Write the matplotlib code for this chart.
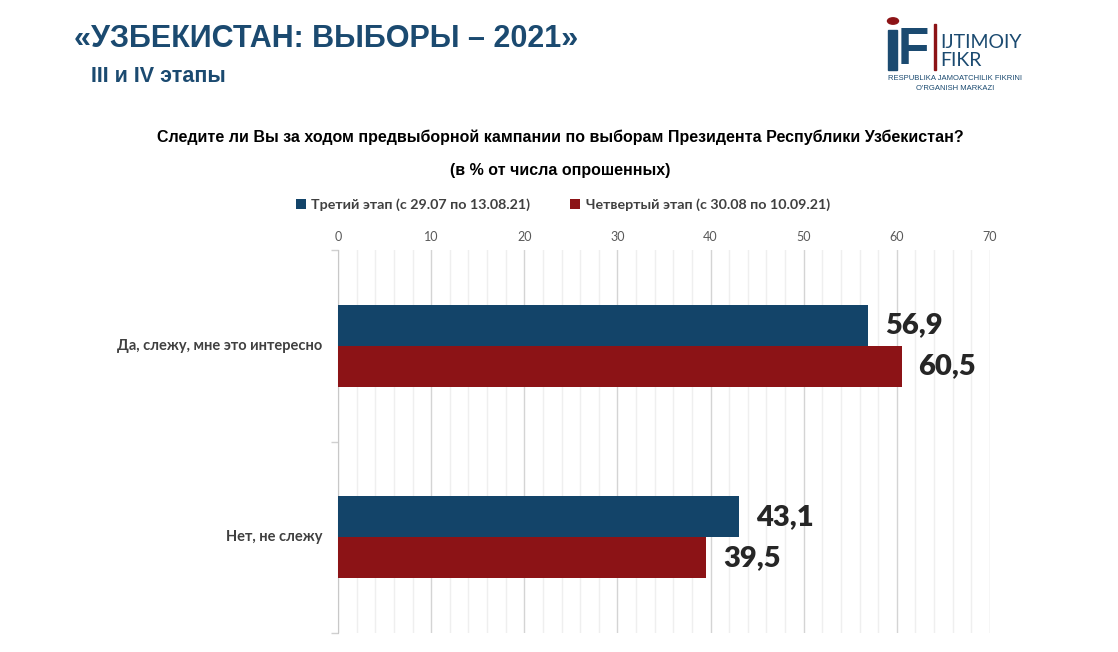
import matplotlib
import matplotlib.pyplot as plt
from matplotlib.patches import Rectangle, Circle

matplotlib.use("Agg")

# data
categories = ["Да, слежу, мне это интересно", "Нет, не слежу"]
stage3 = [56.9, 43.1]
stage4 = [60.5, 39.5]
series_names = ["Третий этап (с 29.07 по 13.08.21)", "Четвертый этап (с 30.08 по 10.09.21)"]
x_ticks = [0, 10, 20, 30, 40, 50, 60, 70]

BLUE = "#134469"
RED = "#8c1316"
TITLE_BLUE = "#1b4a70"
GRAY = "#404040"

W, H = 1118, 652
fig = plt.figure(figsize=(W / 100, H / 100), dpi=100)
fig.patch.set_facecolor("white")

def fx(px):
    return px / W

def fy(py):
    return 1 - py / H

narrow = ["Liberation Sans", "DejaVu Sans"]
body = ["Lato", "DejaVu Sans"]

# headers
fig.text(fx(74), fy(39), "«УЗБЕКИСТАН: ВЫБОРЫ – 2021»", family=narrow, weight="bold",
         fontsize=22, color=TITLE_BLUE, va="center", ha="left")
fig.text(fx(91), fy(77), "III и IV этапы", family=narrow, weight="bold",
         fontsize=15.5, color=TITLE_BLUE, va="center", ha="left")
fig.text(fx(560), fy(137), "Следите ли Вы за ходом предвыборной кампании по выборам Президента Республики Узбекистан?",
         family=narrow, weight="bold", fontsize=11.5, color="black", va="center", ha="center")
fig.text(fx(560), fy(171), "(в % от числа опрошенных)", family=narrow, weight="bold",
         fontsize=11.5, color="black", va="center", ha="center")

# logo
fig.patches.append(Rectangle((fx(888), fy(70)), fx(9), 40 / H, transform=fig.transFigure,
                             color=TITLE_BLUE, zorder=5))
fig.patches.append(Circle((fx(893), fy(21)), 5.5 / W, transform=fig.transFigure,
                          color=RED, zorder=5))
fig.text(fx(898), fy(50), "F", family=["Liberation Sans", "DejaVu Sans"], weight="bold",
         fontsize=37, color=TITLE_BLUE, va="center", ha="left")
fig.patches.append(Rectangle((fx(934), fy(70)), fx(1.5), 46 / H, transform=fig.transFigure,
                             color=RED, zorder=5))
fig.text(fx(940), fy(43), "IJTIMOIY", family=body, fontsize=14, color=TITLE_BLUE,
         va="center", ha="left")
fig.text(fx(940), fy(61), "FIKR", family=body, fontsize=14, color=TITLE_BLUE,
         va="center", ha="left")
fig.text(fx(955), fy(78), "RESPUBLIKA JAMOATCHILIK FIKRINI", family=narrow, fontsize=5.5,
         color=TITLE_BLUE, va="center", ha="center")
fig.text(fx(955), fy(88), "O'RGANISH MARKAZI", family=narrow, fontsize=5.5,
         color=TITLE_BLUE, va="center", ha="center")

# chart
ax = fig.add_axes([fx(338), fy(633), fx(990 - 338), (633 - 250) / H])
ypos = [1, 0]
bh = 0.214
b1 = ax.barh([y + bh / 2 for y in ypos], stage3, height=bh, color=BLUE, label=series_names[0], zorder=3)
b2 = ax.barh([y - bh / 2 for y in ypos], stage4, height=bh, color=RED, label=series_names[1], zorder=3)

for bars in (b1, b2):
    for rect in bars:
        v = rect.get_width()
        ax.annotate(f"{v:.1f}".replace(".", ","), (v, rect.get_y() + rect.get_height() / 2),
                    xytext=(17, 0), textcoords="offset pixels", va="center", ha="left",
                    family=body, weight="heavy", fontsize=21, color="#262626")

ax.set_xlim(0, 70)
ax.set_ylim(-0.5, 1.5)
ax.xaxis.tick_top()
ax.set_xticks(x_ticks)
ax.set_xticks(range(0, 71, 2), minor=True)
ax.tick_params(axis="x", which="both", length=0, pad=5, labelsize=9, labelcolor="#595959")
for lab in ax.get_xticklabels():
    lab.set_family(body)
ax.grid(axis="x", which="major", color="#d4d4d4", linewidth=1, zorder=0)
ax.grid(axis="x", which="minor", color="#efefef", linewidth=1, zorder=0)

ax.set_yticks([-0.5, 0.5, 1.5])
ax.set_yticklabels([])
ax.tick_params(axis="y", length=5, color="#d0d0d0", width=1)
for y, cat in zip(ypos, categories):
    ax.text(-1.7, y, cat, ha="right", va="center", family=body, weight="bold",
            fontsize=10.5, color=GRAY)

for s in ("top", "right", "bottom"):
    ax.spines[s].set_visible(False)
ax.spines["left"].set_color("#c8c8c8")

leg = fig.legend(loc="center", bbox_to_anchor=(fx(563), fy(205)), ncol=2, frameon=False,
                 prop={"family": body, "weight": "bold", "size": 10.3}, handlelength=0.7,
                 handleheight=0.7, handletextpad=0.4, columnspacing=2.8)
for t in leg.get_texts():
    t.set_color(GRAY)

fig.savefig("out.png", dpi=100)
plt.close(fig)
